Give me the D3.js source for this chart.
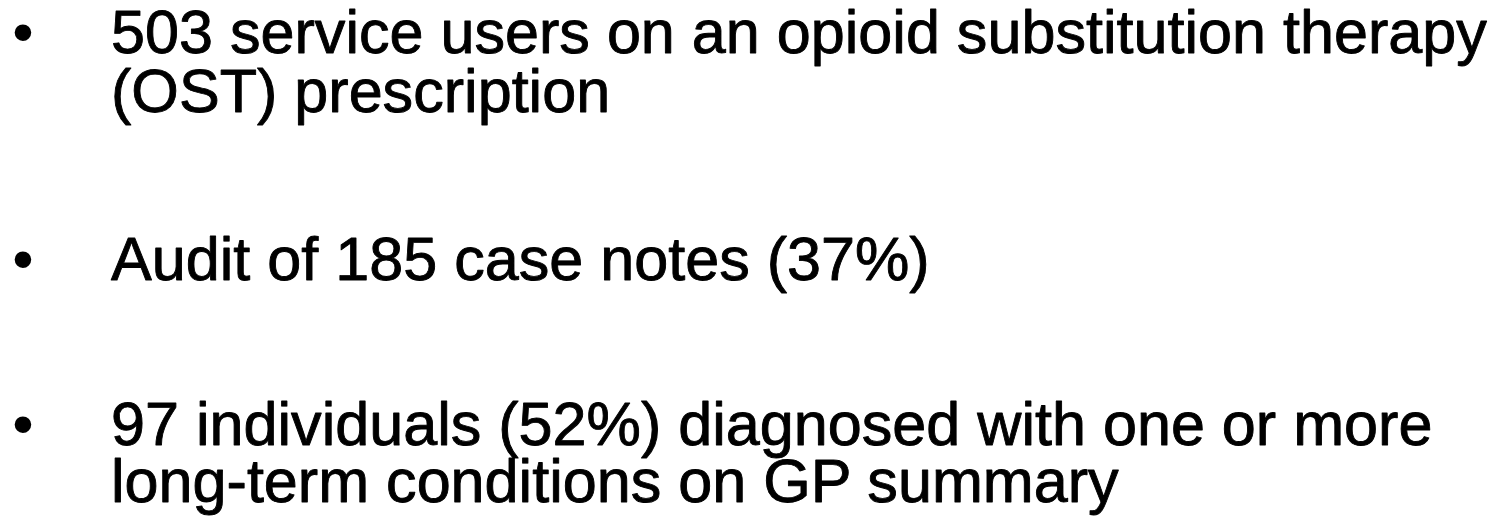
<!DOCTYPE html>
<html><head><meta charset="utf-8">
<script src="https://cdn.jsdelivr.net/npm/d3@7"></script>
<style>html,body{margin:0;padding:0;background:#fff;overflow:hidden}</style>
</head><body>
<svg id="c" width="1511" height="516"></svg>
<script>
const bulletItems = [
  ["503 service users on an opioid substitution therapy", "(OST) prescription"],
  ["Audit of 185 case notes (37%)"],
  ["97 individuals (52%) diagnosed with one or more", "long-term conditions on GP summary"]
];
const lineBaselines = [53, 112, 280, 445, 502];
const textX = 111, bulletX = 23, targetWidth = 1376;

const svg = d3.select("#c");
const font = "'Liberation Sans', Arial, sans-serif";
let size = 60;
const probe = svg.append("text").attr("font-family", font).attr("font-size", size).text(bulletItems[0][0]);
size = size * targetWidth / probe.node().getComputedTextLength();
probe.remove();

let k = 0;
bulletItems.forEach(item => {
  svg.append("text").attr("x", bulletX).attr("y", lineBaselines[k])
    .attr("text-anchor", "middle").attr("font-family", font).attr("font-size", size).text("\u2022");
  item.forEach(line => {
    svg.append("text").attr("x", textX).attr("y", lineBaselines[k])
      .attr("font-family", font).attr("font-size", size).attr("fill", "#000")
      .attr("stroke", "#000").attr("stroke-width", 0.9).attr("stroke-linejoin", "round")
      .text(line);
    k++;
  });
});
</script>
</body></html>
